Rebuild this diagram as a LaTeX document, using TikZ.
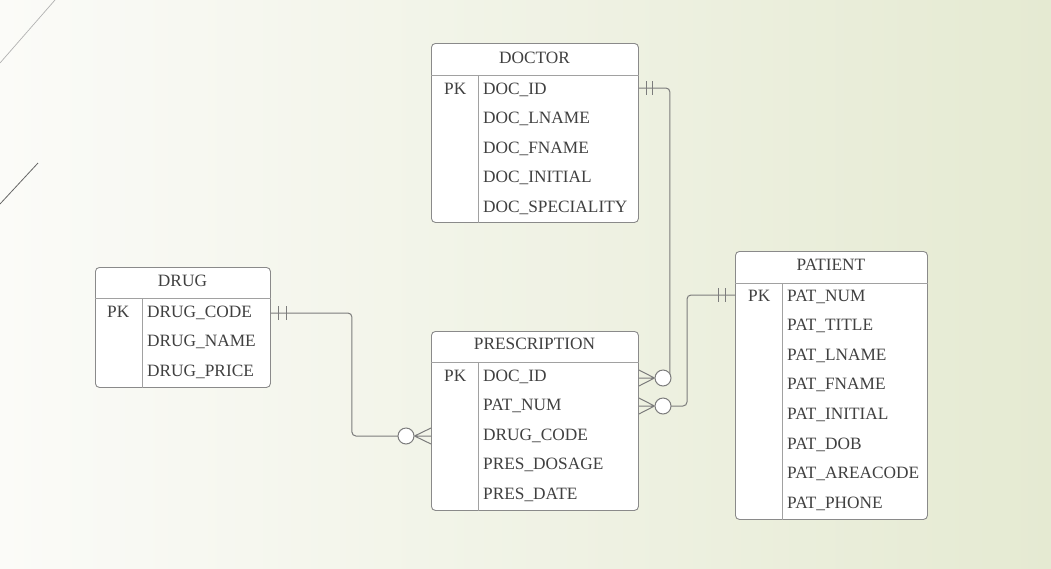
\documentclass[tikz,border=0pt]{standalone}
\usepackage{fontspec}
\setmainfont{Liberation Serif}
\usepackage{tikz}
\usetikzlibrary{positioning}
\definecolor{bgLeft}{HTML}{FBFBF8}
\definecolor{bgRight}{HTML}{E5EAD2}
\definecolor{boxGray}{HTML}{8A8A8A}
\definecolor{linkGray}{HTML}{7C7C7C}
\definecolor{textGray}{HTML}{404040}

\begin{document}
\begin{tikzpicture}[x=1pt, y=-1pt,
    tablebox/.style={draw=boxGray, line width=0.9pt, fill=white, rounded corners=4pt, inner sep=0pt, anchor=north west},
    rule/.style={draw=boxGray!80, line width=0.8pt},
    title/.style={text=textGray, font=\fontsize{17.3}{20}\selectfont, anchor=base, inner sep=0pt},
    field/.style={text=textGray, font=\fontsize{17.3}{20}\selectfont, anchor=base west, inner sep=0pt},
    link/.style={draw=linkGray, line width=1pt, rounded corners=4pt},
    foot/.style={draw=linkGray, line width=1pt},
    optional/.style={circle, draw=linkGray, line width=1pt, fill=white, minimum size=16pt, inner sep=0pt}
]

% Background
\useasboundingbox (0,0) rectangle (1051,568);
\shade[left color=bgLeft, right color=bgRight] (0,0) rectangle (1051,568);
\draw[gray!60, line width=0.7pt] (0,63) -- (55,0);
\draw[gray!80!black, line width=0.8pt] (0,204) -- (38,163);

% DOCTOR
\node[tablebox, minimum width=207pt, minimum height=179pt] (doctor) at (431,43) {};
\node[title] (doctor-title) at (534.5,63) {DOCTOR};
\draw[rule] (doctor.west |- 0,75) -- (doctor.east |- 0,75);
\draw[rule] (478,75) -- (doctor.south -| 478,0);
\node[field] (doctor-pk) at (444,94) {PK};
\foreach \f [count=\i] in {DOC\_ID, DOC\_LNAME, DOC\_FNAME, DOC\_INITIAL, DOC\_SPECIALITY}
    \node[field] (doctor-\i) at (483,64.5+29.5*\i) {\f};

% DRUG
\node[tablebox, minimum width=175pt, minimum height=120pt] (drug) at (95,267) {};
\node[title] (drug-title) at (182.5,286) {DRUG};
\draw[rule] (drug.west |- 0,298) -- (drug.east |- 0,298);
\draw[rule] (142,298) -- (drug.south -| 142,0);
\node[field] (drug-pk) at (107,317) {PK};
\foreach \f [count=\i] in {DRUG\_CODE, DRUG\_NAME, DRUG\_PRICE}
    \node[field] (drug-\i) at (147,287.5+29.5*\i) {\f};

% PRESCRIPTION
\node[tablebox, minimum width=207pt, minimum height=179pt] (prescription) at (431,331) {};
\node[title] (prescription-title) at (534.5,349) {PRESCRIPTION};
\draw[rule] (prescription.west |- 0,362) -- (prescription.east |- 0,362);
\draw[rule] (478,362) -- (prescription.south -| 478,0);
\node[field] (prescription-pk) at (444,381) {PK};
\foreach \f [count=\i] in {DOC\_ID, PAT\_NUM, DRUG\_CODE, PRES\_DOSAGE, PRES\_DATE}
    \node[field] (prescription-\i) at (483,351.5+29.5*\i) {\f};

% PATIENT
\node[tablebox, minimum width=192pt, minimum height=268pt] (patient) at (735,251) {};
\node[title] (patient-title) at (831,270) {PATIENT};
\draw[rule] (patient.west |- 0,283) -- (patient.east |- 0,283);
\draw[rule] (782,283) -- (patient.south -| 782,0);
\node[field] (patient-pk) at (748,301) {PK};
\foreach \f [count=\i] in {PAT\_NUM, PAT\_TITLE, PAT\_LNAME, PAT\_FNAME, PAT\_INITIAL, PAT\_DOB, PAT\_AREACODE, PAT\_PHONE}
    \node[field] (patient-\i) at (787,271.5+29.6*\i) {\f};

% Relationships
\coordinate (doc-one) at (doctor.east |- 0,88);
\coordinate (drug-one) at (drug.east |- 0,313);
\coordinate (pat-one) at (patient.west |- 0,295);
\coordinate (doc-many) at (663,378);
\coordinate (pat-many) at (663,406);
\coordinate (drug-many) at (406,436);

\draw[link] (doc-one) -- ++(31,0) |- (doc-many);
\draw[link] (pat-one) -- ++(-48,0) |- (pat-many);
\draw[link] (drug-one) -- ++(81,0) |- (drug-many);

\node[optional] (doc-ring) at (doc-many) {};
\node[optional] (pat-ring) at (pat-many) {};
\node[optional] (drug-ring) at (drug-many) {};

% one-and-only-one bars
\draw[foot] ([xshift=8pt,yshift=7pt]doc-one) -- ++(0,14) ([xshift=14pt,yshift=7pt]doc-one) -- ++(0,14);
\draw[foot] ([xshift=8pt,yshift=7pt]drug-one) -- ++(0,14) ([xshift=16pt,yshift=7pt]drug-one) -- ++(0,14);
\draw[foot] ([xshift=-17pt,yshift=7pt]pat-one) -- ++(0,14) ([xshift=-10pt,yshift=7pt]pat-one) -- ++(0,14);

% crow's feet
\draw[foot] (doc-ring.west) -- (prescription.east |- 0,370) (doc-ring.west) -- (prescription.east |- doc-ring) (doc-ring.west) -- (prescription.east |- 0,386);
\draw[foot] (pat-ring.west) -- (prescription.east |- 0,398) (pat-ring.west) -- (prescription.east |- pat-ring) (pat-ring.west) -- (prescription.east |- 0,414);
\draw[foot] (drug-ring.east) -- (prescription.west |- 0,428) (drug-ring.east) -- (prescription.west |- drug-ring) (drug-ring.east) -- (prescription.west |- 0,444);

\end{tikzpicture}
\end{document}
